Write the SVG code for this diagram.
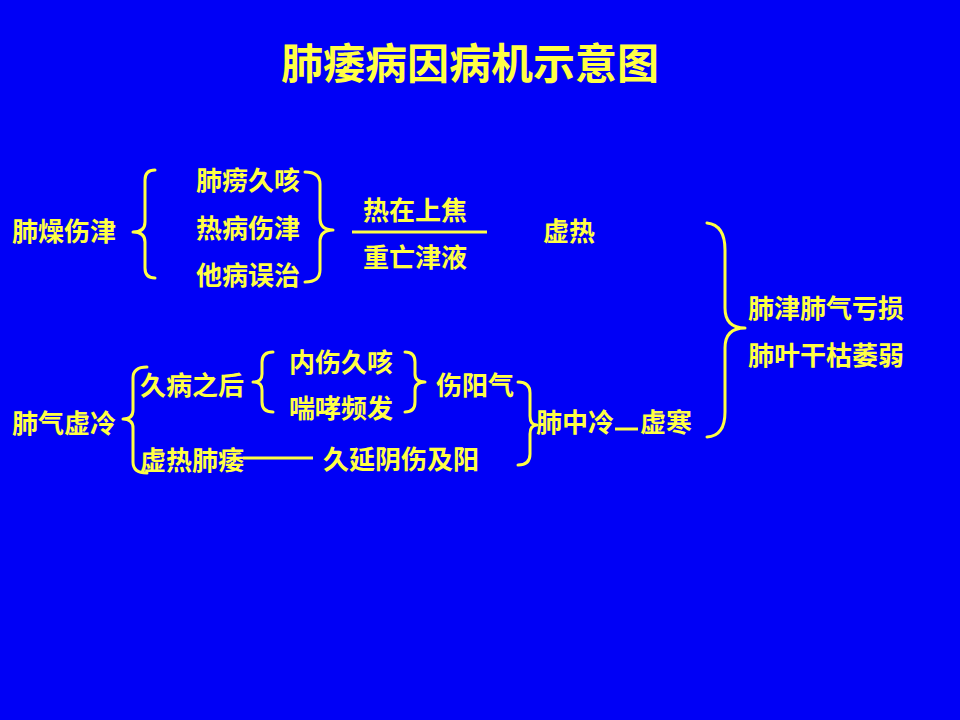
<svg xmlns="http://www.w3.org/2000/svg" width="960" height="720" viewBox="0 0 960 720">
<style>
text{font-family:"Noto Sans CJK SC","Noto Sans CJK JP",sans-serif;font-weight:bold;fill:#FFFF44;dominant-baseline:central}
.t{font-size:26px}
.title{font-size:42px}
.br{fill:none;stroke:#FFFF44;stroke-width:3;stroke-linecap:round;stroke-linejoin:round}
.ln{stroke:#FFFF44;stroke-width:3}
</style>
<rect width="960" height="720" fill="#0000F6"/>
<text class="title" x="470" y="60" text-anchor="middle">肺痿病因病机示意图</text>
<g id="n-feizao"><text class="t" x="12" y="229">肺燥伤津</text></g>
<g id="n-feilao"><text class="t" x="196" y="178">肺痨久咳</text></g>
<g id="n-rebing"><text class="t" x="196" y="226">热病伤津</text></g>
<g id="n-tabing"><text class="t" x="196" y="273">他病误治</text></g>
<g id="n-rezai"><text class="t" x="363" y="208">热在上焦</text></g>
<g id="n-zhongwang"><text class="t" x="363" y="255">重亡津液</text></g>
<g id="n-xure"><text class="t" x="543" y="229">虚热</text></g>
<g id="n-result"><text class="t" x="748" y="306">肺津肺气亏损</text><text class="t" x="748" y="353">肺叶干枯萎弱</text></g>
<g id="n-feiqi"><text class="t" x="12" y="421">肺气虚冷</text></g>
<g id="n-jiubing"><text class="t" x="140" y="383">久病之后</text></g>
<g id="n-xurefeiwei"><text class="t" x="140" y="458">虚热肺痿</text></g>
<g id="n-neishang"><text class="t" x="289" y="360">内伤久咳</text></g>
<g id="n-chuanxiao"><text class="t" x="289" y="406">喘哮频发</text></g>
<g id="n-shangyang"><text class="t" x="436" y="383">伤阳气</text></g>
<g id="n-jiuyan"><text class="t" x="323" y="457">久延阴伤及阳</text></g>
<g id="n-feizhong"><text class="t" x="536" y="420">肺中冷</text></g>
<g id="n-xuhan"><text class="t" x="640" y="420">虚寒</text></g>
<g id="connectors">
<path class="br" d="M155,170 Q145,170 145,180 L145,222 Q145,232 133,232 Q145,232 145,242 L145,268 Q145,278 155,278"/>
<path class="br" d="M305,172 Q320,172 320,184 L320,218 Q320,230 333,230 Q320,230 320,242 L320,270 Q320,282 305,282"/>
<line class="ln" x1="352" y1="232" x2="487" y2="232"/>
<path class="br" d="M707,223 Q725,225 725,250 L725,308 Q725,328 745,328 Q725,328 725,348 L725,412 Q725,436 707,437"/>
<path class="br" d="M147,367 Q133,367 133,378 L133,410 Q133,419 123,419 Q133,419 133,428 L133,462 Q133,473 147,473"/>
<path class="br" d="M273,352 Q262,352 262,362 L262,374 Q262,382 253,382 Q262,382 262,390 L262,402 Q262,412 273,412"/>
<path class="br" d="M405,352 Q415,352 415,362 L415,374 Q415,382 425,382 Q415,382 415,390 L415,402 Q415,412 405,412"/>
<path class="br" d="M518,382 Q530,382 530,393 L530,416 Q530,425 537,425 Q530,425 530,434 L530,454 Q530,465 518,465"/>
<line class="ln" x1="243" y1="458" x2="313" y2="458"/>
<line class="ln" x1="615" y1="429" x2="638" y2="429"/>
</g>
</svg>
